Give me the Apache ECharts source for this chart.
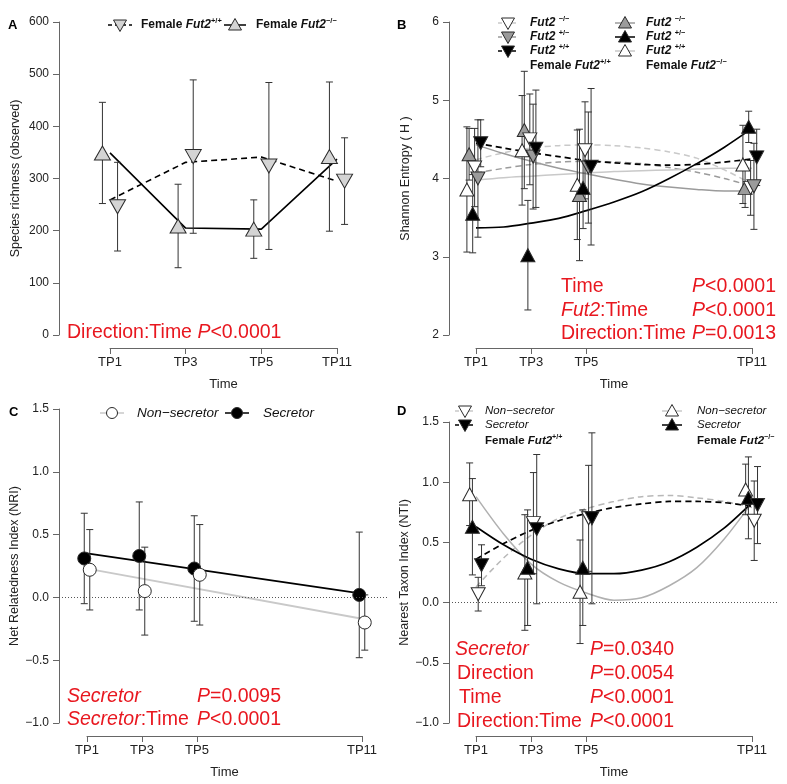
<!DOCTYPE html>
<html>
<head>
<meta charset="utf-8">
<script src="https://cdn.jsdelivr.net/npm/echarts@6/dist/echarts.min.js"></script>
<style>
html, body { margin: 0; padding: 0; background: #fff; }
#chart { width: 787px; height: 784px; }
</style>
</head>
<body>
<div id="chart"></div>
<script>
// time points
var tpLabels = ['TP1', 'TP3', 'TP5', 'TP11'];
var tpIndex = [1, 2, 3, 4];      // panel A spaces the time points evenly
var tpDays = [1, 3, 5, 11];      // panels B-D use real spacing
var curveX = [1, 2, 3, 4, 5, 6, 7, 8, 9, 10, 11];

// A: species richness (observed)
var richWtMean = [246, 342, 324, 295];   // Female Fut2+/+
var richWtErr = [85, 147, 160, 83];
var richKoMean = [349, 209, 203, 342];   // Female Fut2-/-
var richKoErr = [97, 80, 56, 143];
var richWtLine = [259, 331, 341, 295];
var richKoLine = [349, 205, 203, 337];

// B: Shannon entropy, female Fut2+/+ (down triangles)
var shDownWhiteMean = [4.14, 4.50, 4.36, 3.88];
var shDownWhiteErr = [0.50, 0.58, 0.62, 0.35];
var shDownGrayMean = [4.00, 4.28, 4.14, 3.90];
var shDownGrayErr = [0.75, 0.67, 0.71, 0.55];
var shDownBlackMean = [4.45, 4.38, 4.15, 4.27];
var shDownBlackErr = [0.30, 0.75, 1.00, 0.36];
// female Fut2-/- (up triangles)
var shUpGrayMean = [4.31, 4.62, 3.79, 3.88];
var shUpGrayErr = [0.33, 0.75, 0.84, 0.25];
var shUpBlackMean = [3.55, 3.02, 3.88, 4.66];
var shUpBlackErr = [0.50, 0.70, 0.52, 0.20];
var shUpWhiteMean = [3.86, 4.36, 3.92, 4.18];
var shUpWhiteErr = [0.80, 0.70, 0.70, 0.50];
// fitted curves at curveX
var shCurveDownWhite = [4.24, 4.33, 4.39, 4.42, 4.43, 4.42, 4.39, 4.34, 4.26, 4.11, 3.93];
var shCurveDownGray = [4.07, 4.13, 4.18, 4.21, 4.22, 4.21, 4.19, 4.14, 4.08, 4.00, 3.90];
var shCurveDownBlack = [4.45, 4.39, 4.33, 4.28, 4.23, 4.20, 4.18, 4.17, 4.18, 4.21, 4.25];
var shCurveUpGray = [4.43, 4.32, 4.22, 4.13, 4.06, 3.99, 3.93, 3.89, 3.86, 3.84, 3.84];
var shCurveUpBlack = [3.37, 3.38, 3.43, 3.49, 3.59, 3.70, 3.83, 4.00, 4.19, 4.40, 4.64];
var shCurveUpWhite = [3.98, 4.01, 4.03, 4.05, 4.07, 4.09, 4.10, 4.11, 4.12, 4.13, 4.13];

// C: NRI
var nriNonSecMean = [0.22, 0.05, 0.18, -0.20];
var nriNonSecErr = [0.32, 0.35, 0.40, 0.22];
var nriSecMean = [0.31, 0.33, 0.23, 0.02];
var nriSecErr = [0.36, 0.43, 0.42, 0.50];
var nriLineX = [1, 11];
var nriNonSecLine = [0.23, -0.17];
var nriSecLine = [0.35, 0.03];

// D: NTI
var ntiUpWhiteMean = [0.90, 0.25, 0.09, 0.94];   // Female Fut2-/- non-secretor
var ntiUpWhiteErr = [0.26, 0.48, 0.43, 0.21];
var ntiUpBlackMean = [0.63, 0.29, 0.29, 0.87];   // Female Fut2-/- secretor
var ntiUpBlackErr = [0.40, 0.48, 0.48, 0.34];
var ntiDownWhiteMean = [0.07, 0.66, 0.70, 0.68]; // Female Fut2+/+ non-secretor
var ntiDownWhiteErr = [0.14, 0.42, 0.44, 0.33];
var ntiDownBlackMean = [0.31, 0.61, 0.70, 0.81]; // Female Fut2+/+ secretor
var ntiDownBlackErr = [0.17, 0.62, 0.71, 0.32];
var ntiCurveUpWhite = [0.88, 0.57, 0.32, 0.17, 0.08, 0.02, 0.04, 0.14, 0.29, 0.53, 0.83];
var ntiCurveUpBlack = [0.63, 0.48, 0.36, 0.28, 0.24, 0.24, 0.27, 0.34, 0.46, 0.62, 0.83];
var ntiCurveDownWhite = [0.13, 0.37, 0.56, 0.70, 0.78, 0.84, 0.88, 0.89, 0.87, 0.84, 0.79];
var ntiCurveDownBlack = [0.36, 0.49, 0.60, 0.68, 0.74, 0.79, 0.82, 0.84, 0.84, 0.83, 0.80];

var FONT = '"Liberation Sans", Arial, Helvetica, sans-serif';
var RED = '#e8171f';
var BLACK = '#000000', GRAY = '#9b9b9b', LIGHT = '#c9c9c9', EDGE = '#2a2a2a', AFILL = '#d4d4d4';
var AXIS = '#666666', TXT = '#222222';

// panel layout: data grid edges, first/last tick pixels, axis baseline
var panels = [
    {left: 59, right: 385, top: 22, bottom: 335, p1: 110, p2: 337, v1: 1, v2: 4, axisY: 348},
    {left: 449, right: 778, top: 22, bottom: 335, p1: 476, p2: 752, v1: 1, v2: 11, axisY: 348},
    {left: 59, right: 388, top: 409, bottom: 723, p1: 87, p2: 362, v1: 1, v2: 11, axisY: 736},
    {left: 449, right: 778, top: 422, bottom: 723, p1: 476, p2: 752, v1: 1, v2: 11, axisY: 736}
];

var grids = [], xAxes = [], yAxes = [];

function minusFmt(v) {
    return (v < 0 ? '\u2212' : '') + Math.abs(v).toFixed(1);
}

function addPanel(p, yCfg) {
    var k = (p.v2 - p.v1) / (p.p2 - p.p1);
    var g = grids.length;
    grids.push({left: p.left, top: p.top, width: p.right - p.left, height: p.bottom - p.top, outerBoundsMode: 'none'});
    grids.push({left: p.p1, top: p.axisY - 1, width: p.p2 - p.p1, height: 1, outerBoundsMode: 'none'});
    xAxes.push({type: 'value', gridIndex: g, min: p.v1 - (p.p1 - p.left) * k, max: p.v2 + (p.right - p.p2) * k, show: false});
    var isA = p.v2 === 4;
    var vals = isA ? tpIndex : tpDays;
    xAxes.push({
        type: 'value', gridIndex: g + 1, min: p.v1, max: p.v2, position: 'bottom',
        name: 'Time', nameLocation: 'middle', nameGap: 30,
        nameTextStyle: {fontFamily: FONT, fontSize: 13, color: TXT},
        axisLine: {show: true, onZero: false, lineStyle: {color: AXIS, width: 1}},
        axisTick: {show: true, length: 6, customValues: vals, lineStyle: {color: AXIS}},
        axisLabel: {
            show: true, customValues: vals, margin: 8, fontFamily: FONT, fontSize: 13, color: TXT,
            formatter: function (v) { return tpLabels[vals.indexOf(v)]; }
        },
        splitLine: {show: false}
    });
    yAxes.push({
        type: 'value', gridIndex: g, min: yCfg.min, max: yCfg.max, interval: yCfg.step,
        name: yCfg.name, nameLocation: 'middle', nameGap: yCfg.gap,
        nameTextStyle: {fontFamily: FONT, fontSize: 12.5, color: TXT},
        axisLine: {show: true, onZero: false, lineStyle: {color: AXIS, width: 1}},
        axisTick: {show: true, length: 6, lineStyle: {color: AXIS}},
        axisLabel: {fontFamily: FONT, fontSize: 12, color: TXT, margin: 10, formatter: yCfg.fmt},
        splitLine: {show: false}
    });
    yAxes.push({type: 'value', gridIndex: g + 1, min: 0, max: 1, show: false});
    return g;
}

var gA = addPanel(panels[0], {min: 0, max: 600, step: 100, name: 'Species richness (observed)', gap: 37, fmt: null});
var gB = addPanel(panels[1], {min: 2, max: 6, step: 1, name: 'Shannon Entropy ( H )', gap: 37, fmt: null});
var gC = addPanel(panels[2], {min: -1, max: 1.5, step: 0.5, name: 'Net Relatedness Index (NRI)', gap: 37, fmt: minusFmt});
var gD = addPanel(panels[3], {min: -1, max: 1.5, step: 0.5, name: 'Nearest Taxon Index (NTI)', gap: 37, fmt: minusFmt});

var series = [];

function pairs(xs, ys, off) {
    return xs.map(function (x, i) { return [x + (off || 0), ys[i]]; });
}

function lineS(g, xs, ys, color, dashed, smooth, width) {
    series.push({
        type: 'line', xAxisIndex: g, yAxisIndex: g, data: pairs(xs, ys, 0),
        symbol: 'none', smooth: smooth ? 0.3 : false, silent: true, z: 2,
        lineStyle: {color: color, width: width || 1.5, type: dashed ? [6, 4] : 'solid'}
    });
}

function errorBarItem(params, api) {
    var x = api.value(0);
    var top = api.coord([x, api.value(2)]);
    var bot = api.coord([x, api.value(1)]);
    var hw = 3.5;
    var st = {stroke: '#333333', lineWidth: 1};
    return {
        type: 'group', children: [
            {type: 'line', shape: {x1: top[0], y1: top[1], x2: bot[0], y2: bot[1]}, style: st},
            {type: 'line', shape: {x1: top[0] - hw, y1: top[1], x2: top[0] + hw, y2: top[1]}, style: st},
            {type: 'line', shape: {x1: bot[0] - hw, y1: bot[1], x2: bot[0] + hw, y2: bot[1]}, style: st}
        ]
    };
}

function errS(g, xs, m, e, off) {
    series.push({
        type: 'custom', xAxisIndex: g, yAxisIndex: g, z: 3, silent: true,
        renderItem: errorBarItem, encode: {x: 0, y: [1, 2]},
        data: xs.map(function (x, i) { return [x + off, m[i] - e[i], m[i] + e[i]]; })
    });
}

function markS(g, xs, m, off, shape, fill, size) {
    series.push({
        type: 'scatter', xAxisIndex: g, yAxisIndex: g, z: 4, silent: true,
        data: pairs(xs, m, off),
        symbol: shape === 'circle' ? 'circle' : 'triangle',
        symbolRotate: shape === 'down' ? 180 : 0,
        symbolSize: size,
        itemStyle: {color: fill, borderColor: EDGE, borderWidth: 1, opacity: 1}
    });
}

// ---- A ----
lineS(gA, tpIndex, richWtLine, BLACK, true, false, 1.6);
lineS(gA, tpIndex, richKoLine, BLACK, false, false, 1.6);
errS(gA, tpIndex, richKoMean, richKoErr, -0.1);
errS(gA, tpIndex, richWtMean, richWtErr, 0.1);
markS(gA, tpIndex, richKoMean, -0.1, 'up', AFILL, [16, 14]);
markS(gA, tpIndex, richWtMean, 0.1, 'down', AFILL, [16, 14]);

// ---- B ----
lineS(gB, curveX, shCurveDownWhite, LIGHT, true, true);
lineS(gB, curveX, shCurveDownGray, GRAY, true, true);
lineS(gB, curveX, shCurveUpWhite, LIGHT, false, true);
lineS(gB, curveX, shCurveUpGray, GRAY, false, true);
lineS(gB, curveX, shCurveDownBlack, BLACK, true, true, 1.7);
lineS(gB, curveX, shCurveUpBlack, BLACK, false, true, 1.7);
var bOff = {upWhite: -0.33, upGray: -0.25, upBlack: -0.12, downWhite: -0.05, downGray: 0.07, downBlack: 0.17};
errS(gB, tpDays, shUpWhiteMean, shUpWhiteErr, bOff.upWhite);
errS(gB, tpDays, shUpGrayMean, shUpGrayErr, bOff.upGray);
errS(gB, tpDays, shUpBlackMean, shUpBlackErr, bOff.upBlack);
errS(gB, tpDays, shDownWhiteMean, shDownWhiteErr, bOff.downWhite);
errS(gB, tpDays, shDownGrayMean, shDownGrayErr, bOff.downGray);
errS(gB, tpDays, shDownBlackMean, shDownBlackErr, bOff.downBlack);
markS(gB, tpDays, shUpWhiteMean, bOff.upWhite, 'up', '#ffffff', [14, 13]);
markS(gB, tpDays, shUpGrayMean, bOff.upGray, 'up', GRAY, [14, 13]);
markS(gB, tpDays, shUpBlackMean, bOff.upBlack, 'up', BLACK, [14, 13]);
markS(gB, tpDays, shDownWhiteMean, bOff.downWhite, 'down', '#ffffff', [14, 13]);
markS(gB, tpDays, shDownGrayMean, bOff.downGray, 'down', GRAY, [14, 13]);
markS(gB, tpDays, shDownBlackMean, bOff.downBlack, 'down', BLACK, [14, 13]);

// ---- C ----
var zeroLine = {
    silent: true, symbol: 'none', label: {show: false},
    lineStyle: {color: '#555', type: [1, 2], width: 1}, data: [{yAxis: 0}]
};
series.push({type: 'line', xAxisIndex: gC, yAxisIndex: gC, data: [], markLine: zeroLine});
lineS(gC, nriLineX, nriNonSecLine, LIGHT, false, false, 1.8);
lineS(gC, nriLineX, nriSecLine, BLACK, false, false, 1.8);
errS(gC, tpDays, nriSecMean, nriSecErr, -0.1);
errS(gC, tpDays, nriNonSecMean, nriNonSecErr, 0.1);
markS(gC, tpDays, nriSecMean, -0.1, 'circle', BLACK, 13);
markS(gC, tpDays, nriNonSecMean, 0.1, 'circle', '#ffffff', 13);

// ---- D ----
series.push({type: 'line', xAxisIndex: gD, yAxisIndex: gD, data: [], markLine: zeroLine});
lineS(gD, curveX, ntiCurveUpWhite, '#b0b0b0', false, true);
lineS(gD, curveX, ntiCurveDownWhite, '#b8b8b8', true, true);
lineS(gD, curveX, ntiCurveUpBlack, BLACK, false, true, 1.7);
lineS(gD, curveX, ntiCurveDownBlack, BLACK, true, true, 1.7);
var dOff = {upWhite: -0.23, upBlack: -0.13, downWhite: 0.08, downBlack: 0.2};
errS(gD, tpDays, ntiUpWhiteMean, ntiUpWhiteErr, dOff.upWhite);
errS(gD, tpDays, ntiUpBlackMean, ntiUpBlackErr, dOff.upBlack);
errS(gD, tpDays, ntiDownWhiteMean, ntiDownWhiteErr, dOff.downWhite);
errS(gD, tpDays, ntiDownBlackMean, ntiDownBlackErr, dOff.downBlack);
markS(gD, tpDays, ntiUpWhiteMean, dOff.upWhite, 'up', '#ffffff', [14, 13]);
markS(gD, tpDays, ntiUpBlackMean, dOff.upBlack, 'up', BLACK, [14, 13]);
markS(gD, tpDays, ntiDownWhiteMean, dOff.downWhite, 'down', '#ffffff', [14, 13]);
markS(gD, tpDays, ntiDownBlackMean, dOff.downBlack, 'down', BLACK, [14, 13]);

// ---- legends and annotations ----
var graphics = [];

function legSym(cx, cy, shape, fill, lineColor, dashed, half) {
    graphics.push({
        type: 'line', shape: {x1: cx - half, y1: cy, x2: cx + half, y2: cy},
        style: {stroke: lineColor, lineWidth: 1.5, lineDash: dashed ? [4, 3] : null}
    });
    if (shape === 'circle') {
        graphics.push({type: 'circle', shape: {cx: cx, cy: cy, r: 5.5}, style: {fill: fill, stroke: EDGE, lineWidth: 1}});
    } else {
        var pts = shape === 'up'
            ? [[cx - 6.5, cy + 5], [cx + 6.5, cy + 5], [cx, cy - 6.5]]
            : [[cx - 6.5, cy - 5], [cx + 6.5, cy - 5], [cx, cy + 6.5]];
        graphics.push({type: 'polygon', shape: {points: pts}, style: {fill: fill, stroke: EDGE, lineWidth: 1}});
    }
}

function richText(x, y, text, size, color) {
    var base = {fontFamily: FONT, fontSize: size, fill: color, lineHeight: size + 4};
    graphics.push({
        type: 'text', x: x, y: y,
        style: {
            text: text, verticalAlign: 'middle', align: 'left',
            rich: {
                n: Object.assign({}, base),
                i: Object.assign({}, base, {fontStyle: 'italic'}),
                b: Object.assign({}, base, {fontWeight: 'bold'}),
                bi: Object.assign({}, base, {fontWeight: 'bold', fontStyle: 'italic'}),
                s: Object.assign({}, base, {fontSize: size * 0.62, fontWeight: 'bold', verticalAlign: 'top', lineHeight: size + 4})
            }
        }
    });
}

// panel letters
richText(8, 25, '{b|A}', 13, '#000');
richText(397, 25, '{b|B}', 13, '#000');
richText(9, 412, '{b|C}', 13, '#000');
richText(397, 411, '{b|D}', 13, '#000');

// A legend
legSym(120, 25, 'down', AFILL, BLACK, true, 12);
richText(141, 25, '{b|Female }{bi|Fut2}{s|+/+}', 12, '#111');
legSym(235, 25, 'up', AFILL, BLACK, false, 11);
richText(256, 25, '{b|Female }{bi|Fut2}{s|\u2212/\u2212}', 12, '#111');

// B legend
legSym(508, 23, 'down', '#ffffff', LIGHT, true, 10);
richText(530, 23, '{bi|Fut2 }{s|\u2212/\u2212}', 12, '#111');
legSym(508, 37, 'down', GRAY, GRAY, true, 10);
richText(530, 37, '{bi|Fut2 }{s|+/\u2212}', 12, '#111');
legSym(508, 51, 'down', BLACK, BLACK, true, 10);
richText(530, 51, '{bi|Fut2 }{s|+/+}', 12, '#111');
richText(530, 66, '{b|Female }{bi|Fut2}{s|+/+}', 12, '#111');
legSym(625, 23, 'up', GRAY, GRAY, false, 10);
richText(646, 23, '{bi|Fut2 }{s|\u2212/\u2212}', 12, '#111');
legSym(625, 37, 'up', BLACK, BLACK, false, 10);
richText(646, 37, '{bi|Fut2 }{s|+/\u2212}', 12, '#111');
legSym(625, 51, 'up', '#ffffff', LIGHT, false, 10);
richText(646, 51, '{bi|Fut2 }{s|+/+}', 12, '#111');
richText(646, 66, '{b|Female }{bi|Fut2}{s|\u2212/\u2212}', 12, '#111');

// C legend
legSym(112, 413, 'circle', '#ffffff', LIGHT, false, 12);
richText(137, 413, '{i|Non\u2212secretor}', 13.5, '#111');
legSym(237, 413, 'circle', BLACK, BLACK, false, 12);
richText(263, 413, '{i|Secretor}', 13.5, '#111');

// D legend
legSym(465, 411, 'down', '#ffffff', LIGHT, true, 10);
richText(485, 411, '{i|Non\u2212secretor}', 11.5, '#111');
legSym(465, 425, 'down', BLACK, BLACK, true, 10);
richText(485, 425, '{i|Secretor}', 11.5, '#111');
richText(485, 441, '{b|Female }{bi|Fut2}{s|+/+}', 11.5, '#111');
legSym(672, 411, 'up', '#ffffff', LIGHT, false, 10);
richText(697, 411, '{i|Non\u2212secretor}', 11.5, '#111');
legSym(672, 425, 'up', BLACK, BLACK, false, 10);
richText(697, 425, '{i|Secretor}', 11.5, '#111');
richText(697, 441, '{b|Female }{bi|Fut2}{s|\u2212/\u2212}', 11.5, '#111');

// statistics
var SZ = 19.5;
richText(67, 333, '{n|Direction:Time }{i|P}{n|<0.0001}', SZ, RED);

richText(561, 287, '{n|Time}', SZ, RED);
richText(692, 287, '{i|P}{n|<0.0001}', SZ, RED);
richText(561, 311, '{i|Fut2}{n|:Time}', SZ, RED);
richText(692, 311, '{i|P}{n|<0.0001}', SZ, RED);
richText(561, 334, '{n|Direction:Time}', SZ, RED);
richText(692, 334, '{i|P}{n|=0.0013}', SZ, RED);

richText(67, 697, '{i|Secretor}', SZ, RED);
richText(197, 697, '{i|P}{n|=0.0095}', SZ, RED);
richText(67, 720, '{i|Secretor}{n|:Time}', SZ, RED);
richText(197, 720, '{i|P}{n|<0.0001}', SZ, RED);

richText(455, 650, '{i|Secretor}', SZ, RED);
richText(590, 650, '{i|P}{n|=0.0340}', SZ, RED);
richText(457, 674, '{n|Direction}', SZ, RED);
richText(590, 674, '{i|P}{n|=0.0054}', SZ, RED);
richText(459, 698, '{n|Time}', SZ, RED);
richText(590, 698, '{i|P}{n|<0.0001}', SZ, RED);
richText(457, 722, '{n|Direction:Time}', SZ, RED);
richText(590, 722, '{i|P}{n|<0.0001}', SZ, RED);

var chart = echarts.init(document.getElementById('chart'));
chart.setOption({
    animation: false,
    backgroundColor: '#ffffff',
    grid: grids,
    xAxis: xAxes,
    yAxis: yAxes,
    series: series,
    graphic: {elements: graphics}
});
</script>
</body>
</html>
